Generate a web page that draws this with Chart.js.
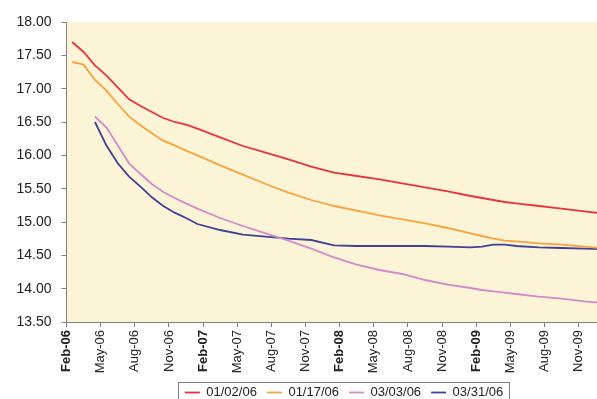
<!DOCTYPE html>
<html>
<head>
<meta charset="utf-8">
<script src="https://cdn.jsdelivr.net/npm/chart.js@4.4.1/dist/chart.umd.min.js"></script>
<style>
  html, body { margin: 0; padding: 0; overflow: hidden; background: #ffffff; }
  #wrap { position: relative; width: 688px; height: 409px; }
</style>
</head>
<body>
<div id="wrap"><canvas id="rateChart"></canvas></div>
<script>
// ==============================
// Data (months counted from Feb-06)
// ==============================
const pointMonths = [0.5, 1.5, 2.5, 3.5, 4.5, 5.5, 6.5, 7.5, 8.5, 9.5, 10.5, 11.5,
    13.5, 15.5, 17.5, 19.5, 21.5, 23.5, 25.5, 27.5, 29.5, 31.5, 33.5, 35.5,
    36.5, 37.5, 38.5, 39.5, 41.5, 43.5, 45.5, 47.5];

const tickLabels = ['Feb-06', 'May-06', 'Aug-06', 'Nov-06', 'Feb-07', 'May-07', 'Aug-07', 'Nov-07',
    'Feb-08', 'May-08', 'Aug-08', 'Nov-08', 'Feb-09', 'May-09', 'Aug-09', 'Nov-09'];

const curve0102 = [17.70, 17.55, 17.35, 17.20, 17.02, 16.84, 16.74, 16.65, 16.56, 16.50, 16.46, 16.40,
    16.27, 16.14, 16.04, 15.94, 15.83, 15.74, 15.69, 15.64, 15.58, 15.52, 15.46, 15.39,
    15.36, 15.33, 15.30, 15.28, 15.24, 15.20, 15.16, 15.12];

const curve0117 = [17.40, 17.36, 17.13, 16.97, 16.77, 16.58, 16.45, 16.33, 16.22, 16.15, 16.07, 16.00,
    15.85, 15.71, 15.57, 15.44, 15.33, 15.24, 15.17, 15.10, 15.04, 14.98, 14.91, 14.83,
    14.79, 14.75, 14.72, 14.71, 14.68, 14.66, 14.63, 14.60];

const curve0303 = [null, null, 16.58, 16.42, 16.15, 15.88, 15.72, 15.57, 15.45, 15.36, 15.28, 15.20,
    15.06, 14.94, 14.83, 14.72, 14.60, 14.47, 14.36, 14.28, 14.22, 14.13, 14.06, 14.01,
    13.98, 13.96, 13.94, 13.92, 13.88, 13.85, 13.81, 13.78];

const curve0331 = [null, null, 16.50, 16.15, 15.88, 15.68, 15.53, 15.37, 15.24, 15.14, 15.06, 14.97,
    14.88, 14.81, 14.78, 14.75, 14.73, 14.65, 14.64, 14.64, 14.64, 14.64, 14.63, 14.62,
    14.63, 14.66, 14.66, 14.64, 14.62, 14.61, 14.60, 14.59];

const seriesNames = ['01/02/06', '01/17/06', '03/03/06', '03/31/06'];
const seriesColors = ['#e8343c', '#f8a33c', '#d48ac8', '#3f4196'];

const toPoints = (vals) => pointMonths.map((m, i) => ({ x: m, y: vals[i] }));

// ==============================
// Plugins
// ==============================
const plotBackground = {
    id: 'plotBackground',
    beforeDraw(chart) {
        const { ctx, chartArea: a } = chart;
        ctx.save();
        ctx.fillStyle = '#fbf4d7';
        ctx.fillRect(a.left, a.top, a.right - a.left, a.bottom - a.top);
        ctx.restore();
    }
};

const legendBorder = {
    id: 'legendBorder',
    afterDraw(chart) {
        const boxes = chart.legend && chart.legend.legendHitBoxes;
        if (!boxes || !boxes.length) return;
        const left = Math.min(...boxes.map(b => b.left)) - 7;
        const right = Math.max(...boxes.map(b => b.left + b.width)) + 6;
        const top = Math.min(...boxes.map(b => b.top)) - 4;
        const bottom = Math.max(...boxes.map(b => b.top + b.height)) + 4;
        const ctx = chart.ctx;
        ctx.save();
        ctx.strokeStyle = '#7f7f7f';
        ctx.lineWidth = 1;
        ctx.strokeRect(Math.round(left) + 0.5, Math.round(top) + 0.5, Math.round(right - left), Math.round(bottom - top));
        ctx.restore();
    }
};

// ==============================
// Chart
// ==============================
const ctx = document.getElementById('rateChart').getContext('2d');
new Chart(ctx, {
    type: 'line',
    data: {
        datasets: [curve0102, curve0117, curve0303, curve0331].map((vals, i) => ({
            label: seriesNames[i],
            data: toPoints(vals),
            borderColor: seriesColors[i],
            backgroundColor: seriesColors[i],
            borderWidth: 1.8,
            pointRadius: 0,
            fill: false,
            tension: 0
        }))
    },
    options: {
        responsive: true,
        maintainAspectRatio: false,
        animation: false,
        layout: { padding: { top: 22, left: 0, right: 0, bottom: 0 } },
        plugins: {
            legend: {
                position: 'bottom',
                labels: {
                    usePointStyle: true,
                    pointStyle: 'line',
                    pointStyleWidth: 15,
                    color: '#222222',
                    font: { family: 'Arial, "Liberation Sans", sans-serif', size: 13 },
                    padding: 10
                }
            },
            tooltip: { enabled: false }
        },
        scales: {
            x: {
                type: 'linear',
                min: 0,
                max: 54.6,
                afterFit: (scale) => { scale.height = 54; },
                grid: { drawOnChartArea: false, tickLength: 5, color: '#808080' },
                border: { color: '#808080' },
                ticks: {
                    stepSize: 3,
                    autoSkip: false,
                    includeBounds: false,
                    maxRotation: 90,
                    minRotation: 90,
                    padding: 3,
                    color: '#222222',
                    font: (c) => ({
                        family: 'Arial, "Liberation Sans", sans-serif',
                        size: 13,
                        weight: c.tick && c.tick.value % 12 === 0 ? 'bold' : 'normal'
                    }),
                    callback: (v) => (v % 3 === 0 ? tickLabels[v / 3] : '')
                }
            },
            y: {
                min: 13.5,
                max: 18,
                afterFit: (scale) => { scale.width = 66.5; },
                grid: { drawOnChartArea: false, tickLength: 5, color: '#808080' },
                border: { color: '#808080' },
                ticks: {
                    stepSize: 0.5,
                    padding: 10,
                    color: '#222222',
                    font: { family: 'Arial, "Liberation Sans", sans-serif', size: 14 },
                    callback: (v) => v.toFixed(2)
                }
            }
        }
    },
    plugins: [plotBackground, legendBorder]
});
</script>
</body>
</html>
